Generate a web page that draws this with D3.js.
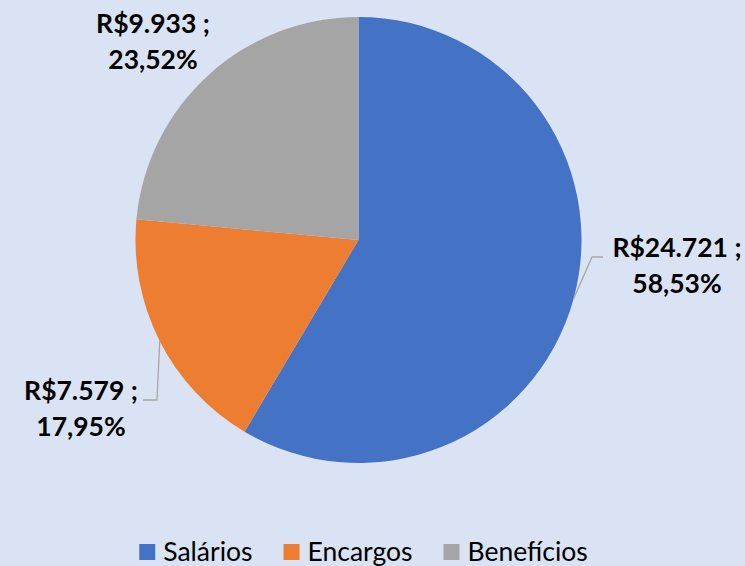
<!DOCTYPE html>
<html>
<head>
<meta charset="utf-8">
<script src="https://cdn.jsdelivr.net/npm/d3@7"></script>
<style>
  html, body { margin: 0; padding: 0; background: #dae3f3; }
  svg { display: block; font-family: Lato, "Noto Sans", sans-serif; }
</style>
</head>
<body>
<svg width="745" height="566"></svg>
<script>
// chart data
var categories = ["Salários", "Encargos", "Benefícios"];
var values = [24721, 7579, 9933];
var valueLabels = ["R$24.721 ;", "R$7.579 ;", "R$9.933 ;"];
var percentLabels = ["58,53%", "17,95%", "23,52%"];
var colors = ["#4472c4", "#ed7d31", "#a5a5a5"];

var svg = d3.select("svg"), width = 745, height = 566;
var cx = 358.5, cy = 240, radius = 223;

svg.append("rect").attr("width", width).attr("height", height).attr("fill", "#dae3f3");

var pie = d3.pie().sort(null).value(function (d) { return d; });
var arc = d3.arc().innerRadius(0).outerRadius(radius);
var arcs = pie(values);

var g = svg.append("g").attr("transform", "translate(" + cx + "," + cy + ")");
g.selectAll("path")
    .data(arcs)
    .join("path")
    .attr("d", arc)
    .attr("fill", function (d, i) { return colors[i]; });

// label placement (center x, first baseline y) and whether a leader line is drawn
var labelPos = [
    { x: 677, y: 257, leader: true, side: 1 },
    { x: 81, y: 400, leader: true, side: -1 },
    { x: 153, y: 33, leader: false }
];

function edgePoint(d) {
    var a = (d.startAngle + d.endAngle) / 2;
    return [cx + radius * Math.sin(a), cy - radius * Math.cos(a)];
}

var labels = svg.append("g");
arcs.forEach(function (d, i) {
    var p = labelPos[i];
    if (p.leader) {
        var s = edgePoint(d);
        var hx, kx;
        if (p.side > 0) { kx = 592; hx = 603; } else { kx = 157; hx = 143; }
        labels.append("path")
            .attr("d", d3.line()([s, [kx, p.y], [hx, p.y]]))
            .attr("fill", "none")
            .attr("stroke", "#a6a6a6")
            .attr("stroke-width", 1.3);
    }
    var t = labels.append("text")
        .attr("text-anchor", "middle")
        .attr("font-weight", "bold")
        .attr("font-size", 26.5)
        .attr("fill", "#000");
    t.append("tspan").attr("x", p.x).attr("y", p.y).text(valueLabels[i]);
    t.append("tspan").attr("x", p.x).attr("y", p.y + 36).text(percentLabels[i]);
});

// legend
var legend = svg.append("g");
var items = legend.selectAll("g").data(categories).join("g");
items.append("rect")
    .attr("width", 16).attr("height", 16)
    .attr("y", 544)
    .attr("fill", function (d, i) { return colors[i]; });
items.append("text")
    .attr("y", 561)
    .attr("font-size", 26.5)
    .attr("fill", "#000")
    .text(function (d) { return d; });

var widths = [];
items.select("text").each(function () { widths.push(this.getComputedTextLength()); });
var total = 0;
widths.forEach(function (w, i) { total += 16 + 8 + w + (i < widths.length - 1 ? 31 : 0); });
var x = 363.5 - total / 2;
items.each(function (d, i) {
    d3.select(this).select("rect").attr("x", x);
    d3.select(this).select("text").attr("x", x + 24);
    x += 16 + 8 + widths[i] + 31;
});
</script>
</body>
</html>
